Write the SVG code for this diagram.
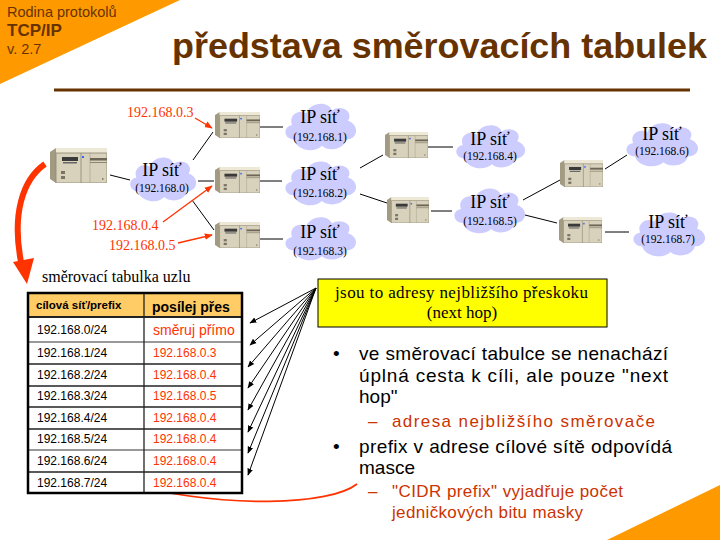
<svg xmlns="http://www.w3.org/2000/svg" xmlns:xlink="http://www.w3.org/1999/xlink" width="720" height="540" viewBox="0 0 720 540">
<style>
.ser{font-family:"Liberation Serif","Times New Roman",serif}
.sans{font-family:"Liberation Sans",Arial,sans-serif}
.ip{font-size:18px;fill:#000;text-anchor:middle}
.net{font-size:11.5px;fill:#000;text-anchor:middle}
.lbl{font-size:14px;fill:#ff3300}
.conn{stroke:#000;stroke-width:1;fill:none}
.redl{stroke:#ff3300;stroke-width:1.3;fill:none}
.cell{font-size:12px;fill:#000}
.hop{font-size:12px;fill:#ff3300}
.b1{font-size:19px;fill:#000}
.b2{font-size:17px;fill:#cc3300}
.brown{fill:#663300}
</style>
<defs>
<symbol id="cloud" viewBox="0 0 76 52" preserveAspectRatio="none">
<path d="M12 40 C2 40 0 28 10 26 C6 16 18 10 24 15 C28 4 46 2 50 12 C58 6 72 12 66 22 C78 26 76 40 64 40 C62 50 46 52 40 46 C32 54 14 50 12 40 Z" fill="#ccccff"/>
</symbol>
<symbol id="router" viewBox="0 0 57 35" preserveAspectRatio="none">
<polygon points="0,4 6,0 6,35 0,31" fill="#a39a82"/>
<polygon points="6,0 57,0 57,5 6,5" fill="#eee8d6"/>
<rect x="6" y="5" width="51" height="30" fill="#d8d1bb" stroke="#8d8570" stroke-width="0.8"/>
<line x1="31" y1="5" x2="31" y2="35" stroke="#8d8570" stroke-width="0.8"/>
<line x1="40" y1="5" x2="40" y2="35" stroke="#a89f88" stroke-width="0.6"/>
<rect x="12" y="9" width="16" height="4" fill="#3a3a3a"/>
<rect x="13" y="14" width="14" height="1.5" fill="#666"/>
<rect x="32" y="8" width="2" height="2" fill="#3366ff"/>
<rect x="40" y="10" width="17" height="2.5" fill="#6e6757"/>
<rect x="40" y="14" width="17" height="1" fill="#8d8570"/>
<rect x="11" y="23" width="4" height="3" fill="#7a7466"/>
<rect x="11" y="28" width="4" height="3" fill="#7a7466"/>
<rect x="52" y="30" width="1.5" height="2" fill="#8d8570"/>
</symbol>
<marker id="ab" viewBox="0 0 10 10" refX="9" refY="5" markerWidth="7" markerHeight="7" markerUnits="userSpaceOnUse" orient="auto">
<path d="M0 1 L10 5 L0 9 Z" fill="#000"/>
</marker>
<marker id="ar" viewBox="0 0 10 10" refX="9" refY="5" markerWidth="8" markerHeight="8" markerUnits="userSpaceOnUse" orient="auto">
<path d="M0 1 L10 5 L0 9 Z" fill="#ff3300"/>
</marker>
</defs>

<!-- decorations -->
<polygon points="0,0 180,0 0,84" fill="#ff9900"/>
<polygon points="720,485 720,540 607,540" fill="#ff9900"/>
<text x="7" y="17" class="sans brown" font-size="14.5">Rodina protokolů</text>
<text x="7" y="36" class="sans brown" font-size="17" font-weight="bold">TCP/IP</text>
<text x="7" y="54" class="sans brown" font-size="14.5">v. 2.7</text>
<text x="172" y="58" class="sans brown" font-size="35" font-weight="bold" textLength="535" lengthAdjust="spacingAndGlyphs">představa směrovacích tabulek</text>
<rect x="54" y="88.5" width="636" height="3" fill="#663300"/>

<!-- connectors -->
<g id="connectors">
<line class="conn" x1="110" y1="175" x2="130" y2="180"/>
<line class="conn" x1="193" y1="160" x2="213" y2="132"/>
<line class="conn" x1="198" y1="181" x2="214" y2="181"/>
<line class="conn" x1="192" y1="200" x2="214" y2="230"/>
<line class="conn" x1="260" y1="127" x2="283" y2="127"/>
<line class="conn" x1="260" y1="181" x2="282" y2="181"/>
<line class="conn" x1="260" y1="239" x2="283" y2="239"/>
<line class="conn" x1="360" y1="168" x2="383" y2="155"/>
<line class="conn" x1="360" y1="194" x2="387" y2="203"/>
<line class="conn" x1="428" y1="147" x2="453" y2="147"/>
<line class="conn" x1="431" y1="211" x2="452" y2="211"/>
<line class="conn" x1="523" y1="200" x2="560" y2="180"/>
<line class="conn" x1="525" y1="215" x2="557" y2="223"/>
<line class="conn" x1="605" y1="169" x2="627" y2="155"/>
<line class="conn" x1="605" y1="232" x2="629" y2="232"/>
<line class="redl" x1="195" y1="118" x2="212" y2="128" marker-end="url(#ar)"/>
<line class="redl" x1="163" y1="222" x2="212" y2="186" marker-end="url(#ar)"/>
<line class="redl" x1="178" y1="243" x2="212" y2="235" marker-end="url(#ar)"/>
<g class="conn" marker-end="url(#ab)">
<line x1="316" y1="288" x2="250" y2="323"/>
<line x1="316" y1="288" x2="250" y2="345"/>
<line x1="316" y1="288" x2="248" y2="367"/>
<line x1="316" y1="288" x2="248" y2="388"/>
<line x1="316" y1="288" x2="248" y2="410"/>
<line x1="316" y1="288" x2="248" y2="432"/>
<line x1="316" y1="288" x2="248" y2="453"/>
<line x1="316" y1="288" x2="248" y2="475"/>
</g>
<path d="M45 164 C22 180 12 215 21 262" stroke="#ff3300" stroke-width="6" fill="none"/>
<polygon points="13,262 34,258 27,284" fill="#ff3300"/>
<path d="M357 484 C330 505 230 510 117 482" stroke="#ff3300" stroke-width="1.8" fill="none" marker-end="url(#ar)"/>
</g>

<!-- routers -->
<g id="node-main"><use href="#router" x="50" y="148" width="57" height="35"/></g>
<g id="router-1"><use href="#router" x="215" y="112" width="45" height="26"/></g>
<g id="router-2"><use href="#router" x="215" y="167" width="45" height="26"/></g>
<g id="router-3"><use href="#router" x="215" y="222" width="45" height="26"/></g>
<g id="router-4"><use href="#router" x="385" y="132" width="43" height="26"/></g>
<g id="router-5"><use href="#router" x="387" y="197" width="42" height="26"/></g>
<g id="router-6"><use href="#router" x="560" y="160" width="43" height="27"/></g>
<g id="router-7"><use href="#router" x="559" y="217" width="43" height="26"/></g>

<!-- clouds -->
<g id="net-0"><use href="#cloud" x="127" y="152" width="71" height="51"/>
<text class="ser ip" x="162" y="176">IP síť</text><text class="ser net" x="162" y="192">(192.168.0)</text></g>
<g id="net-1"><use href="#cloud" x="282" y="98" width="76" height="54"/>
<text class="ser ip" x="320" y="123">IP síť</text><text class="ser net" x="320" y="141">(192.168.1)</text></g>
<g id="net-2"><use href="#cloud" x="282" y="156" width="76" height="51"/>
<text class="ser ip" x="320" y="180">IP síť</text><text class="ser net" x="320" y="197">(192.168.2)</text></g>
<g id="net-3"><use href="#cloud" x="282" y="212" width="76" height="50"/>
<text class="ser ip" x="320" y="238">IP síť</text><text class="ser net" x="320" y="255">(192.168.3)</text></g>
<g id="net-4"><use href="#cloud" x="453" y="120" width="74" height="50"/>
<text class="ser ip" x="490" y="145">IP síť</text><text class="ser net" x="490" y="160">(192.168.4)</text></g>
<g id="net-5"><use href="#cloud" x="451" y="183" width="76" height="52"/>
<text class="ser ip" x="490" y="208">IP síť</text><text class="ser net" x="490" y="225">(192.168.5)</text></g>
<g id="net-6"><use href="#cloud" x="623" y="118" width="77" height="50"/>
<text class="ser ip" x="662" y="140">IP síť</text><text class="ser net" x="662" y="155">(192.168.6)</text></g>
<g id="net-7"><use href="#cloud" x="630" y="207" width="77" height="51"/>
<text class="ser ip" x="668" y="228">IP síť</text><text class="ser net" x="668" y="243">(192.168.7)</text></g>

<!-- red address labels -->
<text class="ser lbl" x="127" y="117">192.168.0.3</text>
<text class="ser lbl" x="92" y="230">192.168.0.4</text>
<text class="ser lbl" x="109" y="250">192.168.0.5</text>

<!-- table -->
<g id="routing-table">
<text class="ser" x="42" y="282" font-size="16" fill="#000">směrovací tabulka uzlu</text>
<rect x="28" y="293" width="214" height="200" fill="#fff"/>
<rect x="28" y="293" width="214" height="24" fill="#ffcc66"/>
<g stroke="#222" stroke-width="1.3">
<line x1="28" y1="317" x2="242" y2="317" stroke-width="2"/>
<line x1="28" y1="342" x2="242" y2="342" stroke="#777"/>
<line x1="28" y1="364" x2="242" y2="364"/>
<line x1="28" y1="386" x2="242" y2="386"/>
<line x1="28" y1="407" x2="242" y2="407"/>
<line x1="28" y1="429" x2="242" y2="429"/>
<line x1="28" y1="450" x2="242" y2="450" stroke="#777"/>
<line x1="28" y1="472" x2="242" y2="472"/>
<line x1="144" y1="293" x2="144" y2="493"/>
</g>
<rect x="28" y="293" width="214" height="200" fill="none" stroke="#000" stroke-width="2.5"/>
<text class="sans" x="36" y="309" font-size="11.5" font-weight="bold">cílová síť/prefix</text>
<text class="sans" x="152" y="312" font-size="14" font-weight="bold">posílej přes</text>
<text class="sans cell" x="37" y="334">192.168.0/24</text>
<text class="sans" x="153" y="335" font-size="14" fill="#ff3300">směruj přímo</text>
<text class="sans cell" x="37" y="357">192.168.1/24</text><text class="sans hop" x="153" y="357">192.168.0.3</text>
<text class="sans cell" x="37" y="379">192.168.2/24</text><text class="sans hop" x="153" y="379">192.168.0.4</text>
<text class="sans cell" x="37" y="400">192.168.3/24</text><text class="sans hop" x="153" y="400">192.168.0.5</text>
<text class="sans cell" x="37" y="422">192.168.4/24</text><text class="sans hop" x="153" y="422">192.168.0.4</text>
<text class="sans cell" x="37" y="443">192.168.5/24</text><text class="sans hop" x="153" y="443">192.168.0.4</text>
<text class="sans cell" x="37" y="465">192.168.6/24</text><text class="sans hop" x="153" y="465">192.168.0.4</text>
<text class="sans cell" x="37" y="487">192.168.7/24</text><text class="sans hop" x="153" y="487">192.168.0.4</text>
</g>

<!-- callout -->
<g id="callout">
<rect x="318" y="279" width="289" height="48" fill="#ffff00" stroke="#000" stroke-width="1"/>
<text class="ser" x="335" y="298" font-size="17" textLength="253" lengthAdjust="spacing">jsou to adresy nejbližšího přeskoku</text>
<text class="ser" x="462" y="318" font-size="17" text-anchor="middle">(next hop)</text>
</g>

<!-- bullets -->
<g id="bullets">
<text class="sans b1" x="333" y="360">•</text>
<text class="sans b1" x="359" y="360" textLength="309" lengthAdjust="spacing">ve směrovací tabulce se nenachází</text>
<text class="sans b1" x="359" y="382" textLength="309" lengthAdjust="spacing">úplná cesta k cíli, ale pouze "next</text>
<text class="sans b1" x="359" y="403">hop"</text>
<text class="sans b2" x="368" y="427">–</text>
<text class="sans b2" x="392" y="427" textLength="263" lengthAdjust="spacing">adresa nejbližšího směrovače</text>
<text class="sans b1" x="333" y="453">•</text>
<text class="sans b1" x="359" y="453" textLength="313" lengthAdjust="spacing">prefix v adrese cílové sítě odpovídá</text>
<text class="sans b1" x="359" y="474">masce</text>
<text class="sans b2" x="368" y="497">–</text>
<text class="sans b2" x="392" y="497" textLength="231" lengthAdjust="spacing">"CIDR prefix" vyjadřuje počet</text>
<text class="sans b2" x="392" y="518" textLength="191" lengthAdjust="spacing">jedničkových bitu masky</text>
</g>
</svg>
